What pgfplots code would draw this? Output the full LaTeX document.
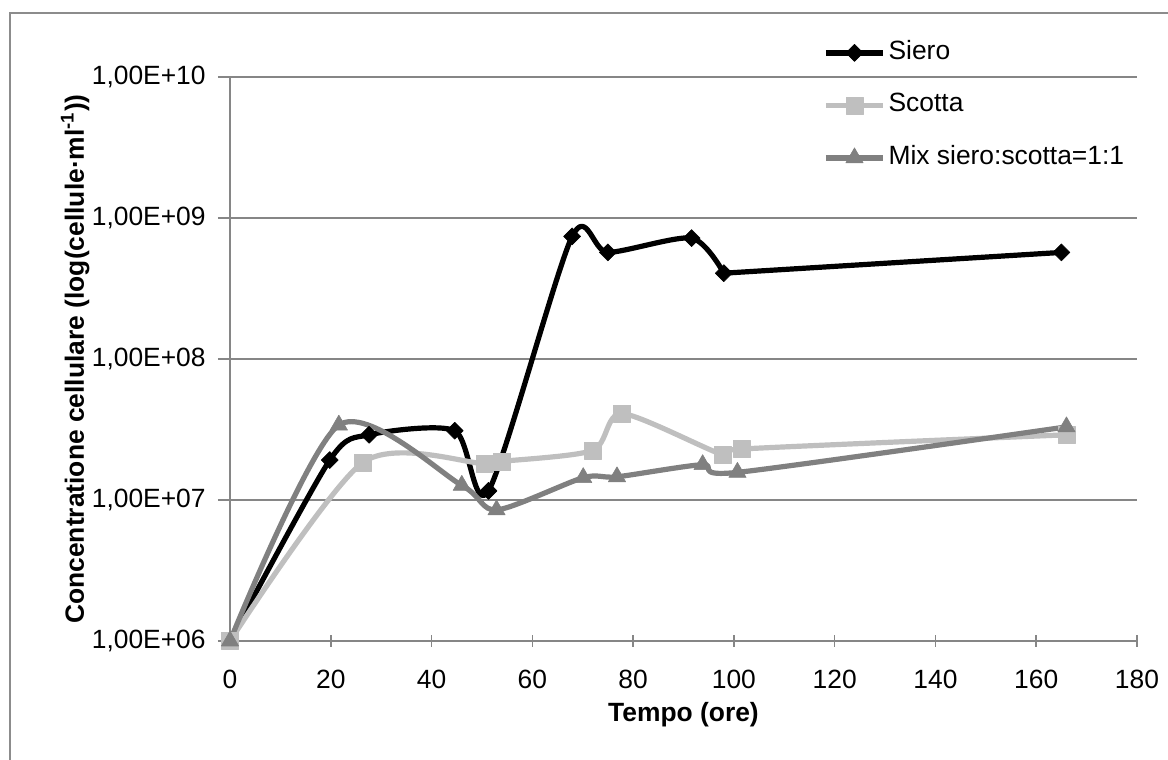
\documentclass[border=0pt]{standalone}
\usepackage{fontspec}
\setmainfont{Liberation Sans}
\usepackage{pgfplots}
\pgfplotsset{compat=1.18}

\definecolor{axisgray}{RGB}{134,134,134}
\definecolor{framegray}{RGB}{140,140,140}
\definecolor{scottagray}{RGB}{191,191,191}
\definecolor{mixgray}{RGB}{128,128,128}

\newcommand\chartfont{\fontsize{13.2bp}{15.8bp}\selectfont}

\begin{document}
\begin{tikzpicture}
% page area and outer chart frame
\useasboundingbox (0,0) rectangle (584bp,-380bp);
\draw[framegray, line width=0.75bp] (5bp,-6.5bp) rectangle (600bp,-400bp);

\begin{axis}[
  at={(115bp,-320.5bp)}, anchor=south west,
  scale only axis, width=453.5bp, height=282bp,
  xmin=0, xmax=180, ymin=1e6, ymax=1e10, ymode=log,
  xtick={0,20,...,180},
  xticklabel={\chartfont\pgfmathprintnumber{\tick}},
  ytick={1e6,1e7,1e8,1e9,1e10},
  yticklabels={{\chartfont 1,00E+06},{\chartfont 1,00E+07},{\chartfont 1,00E+08},
               {\chartfont 1,00E+09},{\chartfont 1,00E+10}},
  yminorticks=false,
  axis x line*=bottom, axis y line*=left,
  axis line style={-, draw=axisgray, line width=0.75bp},
  ymajorgrids, grid style={axisgray, line width=0.75bp},
  xtick align=center, ytick align=outside,
  major tick length=6bp,
  tick style={draw=axisgray, line width=0.75bp},
  /pgf/number format/assume math mode=true,
  xticklabel style={anchor=base, inner sep=0pt, yshift=-21bp},
  yticklabel style={anchor=east, inner sep=0pt, xshift=-6bp},
  xlabel={\textbf{Tempo (ore)}},
  ylabel={\textbf{Concentratione cellulare (log(cellule·ml\textsuperscript{-1}))}},
  every axis x label/.style={at={(axis description cs:0.5,0)}, anchor=base, yshift=-40.5bp, font=\chartfont},
  every axis y label/.style={at={(axis description cs:-0.1610,0.5)}, rotate=90, anchor=base, font=\chartfont},
  legend style={draw=none, fill=none, inner sep=0pt,
    at={(0.6538,1.0638)}, anchor=north west,
    row sep=14.75bp, column sep=1.5bp,
    nodes={inner sep=0pt, text height=9bp, text depth=2.5bp},
    font=\chartfont},
  legend cell align=left,
  legend image code/.code={
    \draw[mark repeat=2, mark phase=2, #1] plot coordinates {(0bp,0bp) (14.25bp,0bp) (28.5bp,0bp)};
  },
  every axis plot/.append style={line width=2.6bp, line join=round, smooth, tension=0.45},
]
% Siero: long flat stretch from 98 h to 165 h
\addplot[black, forget plot, mark=square*, mark size=3bp, mark indices={2},
  mark options={rotate=45, fill=black, draw=black, line width=0.3bp}]
  coordinates {(98.0,4.06e8) (165,5.7e8)};
% Siero
\addplot[black, mark=square*, mark size=3bp,
  mark options={rotate=45, fill=black, draw=black, line width=0.3bp}]
  coordinates {(0,1e6) (19.8,1.92e7) (27.6,2.9e7) (44.6,3.1e7) (51.3,1.16e7)
               (67.9,7.4e8) (75.0,5.7e8) (91.6,7.2e8) (98.0,4.06e8)};
\addlegendentry{Siero}
% Scotta
\addplot[scottagray, mark=square*, mark size=4.25bp,
  mark options={fill=scottagray, draw=scottagray, line width=0.3bp}]
  coordinates {(0,1e6) (26.4,1.85e7) (50.5,1.81e7) (54.0,1.88e7) (72.0,2.25e7)
               (77.8,4.1e7) (97.7,2.1e7) (101.6,2.3e7) (166,2.9e7)};
\addlegendentry{Scotta}
% Mix siero:scotta = 1:1
\addplot[mixgray, mark=triangle*, mark size=5bp,
  mark options={fill=mixgray, draw=mixgray, line width=0.3bp}]
  coordinates {(0,1e6) (21.6,3.4e7) (46.0,1.27e7) (52.9,8.5e6) (70.1,1.44e7)
               (76.8,1.46e7) (93.8,1.78e7) (100.7,1.57e7) (166,3.3e7)};
\addlegendentry{Mix siero:scotta=1:1}
\end{axis}
\end{tikzpicture}
\end{document}
